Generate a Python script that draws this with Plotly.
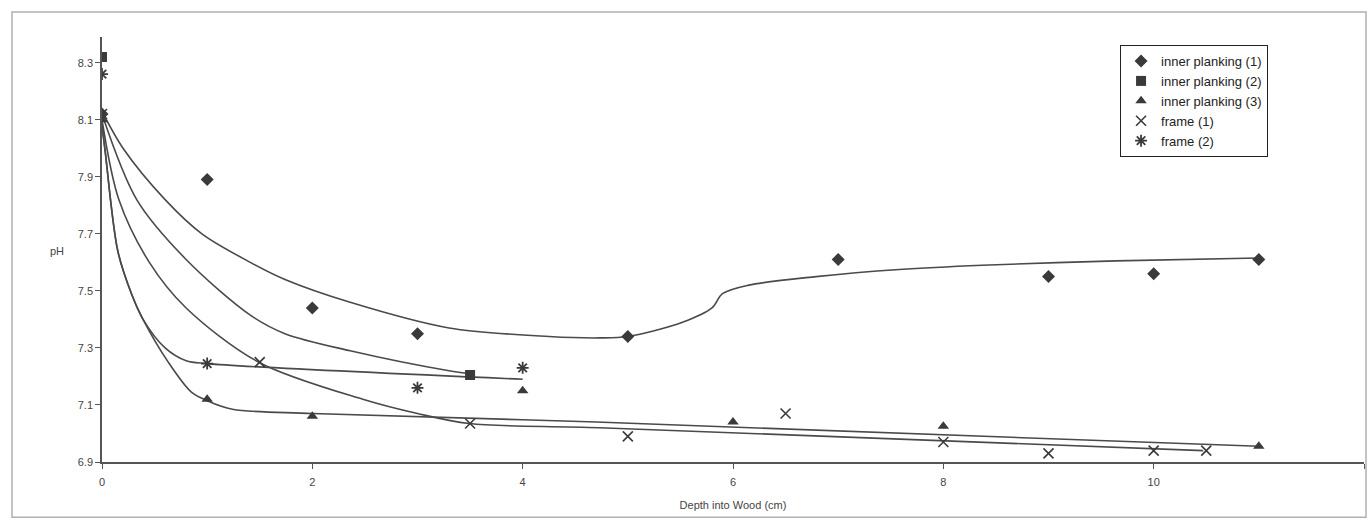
import plotly.graph_objects as go

# ---- measured points ----
ip1_x = [0, 1, 2, 3, 5, 7, 9, 10, 11]
ip1_y = [8.12, 7.89, 7.44, 7.35, 7.34, 7.61, 7.55, 7.56, 7.61]

ip2_x = [0, 3.5]
ip2_y = [8.32, 7.205]

ip3_x = [0, 1, 2, 4, 6, 8, 11]
ip3_y = [8.1, 7.12, 7.06, 7.15, 7.04, 7.025, 6.955]

fr1_x = [0, 1.5, 3.5, 5, 6.5, 8, 9, 10, 10.5]
fr1_y = [8.12, 7.25, 7.035, 6.99, 7.07, 6.97, 6.93, 6.94, 6.94]

fr2_x = [0, 1, 3, 4]
fr2_y = [8.26, 7.245, 7.16, 7.23]

# ---- fitted curves ----
ip1_fit_x = [0, 0.2, 0.6, 0.95, 1.41, 1.74, 2.36, 3.3, 4.25, 4.73, 5.0, 5.52, 5.8, 5.9, 6.15, 6.79, 7.58, 8.37, 9.64, 11]
ip1_fit_y = [8.13, 8.0, 7.82, 7.70, 7.60, 7.54, 7.46, 7.37, 7.34, 7.335, 7.34, 7.39, 7.44, 7.49, 7.52, 7.55, 7.575, 7.59, 7.605, 7.615]

ip2_fit_x = [0, 0.33, 0.8, 1.41, 1.74, 2.36, 3.3, 3.5]
ip2_fit_y = [8.12, 7.82, 7.61, 7.415, 7.35, 7.29, 7.22, 7.21]

fr1_fit_x = [0, 0.16, 0.45, 0.8, 1.49, 2.48, 3.0, 3.49, 4.73, 10.47]
fr1_fit_y = [8.1, 7.82, 7.6, 7.44, 7.25, 7.12, 7.07, 7.035, 7.02, 6.94]

fr2_fit_x = [0, 0.03, 0.15, 0.28, 0.39, 0.6, 0.8, 1.0, 4.0]
fr2_fit_y = [8.08, 7.99, 7.64, 7.49, 7.40, 7.30, 7.255, 7.245, 7.19]

ip3_fit_x = [0, 0.03, 0.15, 0.28, 0.39, 0.63, 0.85, 1.0, 1.24, 2.0, 4.7, 11]
ip3_fit_y = [8.08, 7.99, 7.64, 7.49, 7.40, 7.25, 7.145, 7.115, 7.085, 7.07, 7.04, 6.955]

x_ticks = [0, 2, 4, 6, 8, 10, 12]
y_ticks = [6.9, 7.1, 7.3, 7.5, 7.7, 7.9, 8.1, 8.3]

LINE = "#4a4a4a"
MK = "#3a3a3a"

fig = go.Figure()

for fx, fy in [(ip1_fit_x, ip1_fit_y), (ip2_fit_x, ip2_fit_y), (fr1_fit_x, fr1_fit_y),
               (fr2_fit_x, fr2_fit_y), (ip3_fit_x, ip3_fit_y)]:
    fig.add_trace(go.Scatter(x=fx, y=fy, mode="lines", showlegend=False, hoverinfo="skip",
                             line=dict(color=LINE, width=1.6, shape="spline", smoothing=0.9)))

fig.add_trace(go.Scatter(x=ip1_x, y=ip1_y, mode="markers", name="inner planking (1)",
                         marker=dict(symbol="diamond", size=10, color=MK)))
fig.add_trace(go.Scatter(x=ip2_x, y=ip2_y, mode="markers", name="inner planking (2)",
                         marker=dict(symbol="square", size=10, color=MK)))
fig.add_trace(go.Scatter(x=ip3_x, y=ip3_y, mode="markers", name="inner planking (3)",
                         marker=dict(symbol="triangle-up", size=10, color=MK)))
fig.add_trace(go.Scatter(x=fr1_x, y=fr1_y, mode="markers", name="frame (1)",
                         marker=dict(symbol="x-thin-open", size=10, color=MK,
                                     line=dict(color=MK, width=1.6))))
fig.add_trace(go.Scatter(x=fr2_x, y=fr2_y, mode="markers", name="frame (2)",
                         marker=dict(symbol="asterisk-open", size=10, color=MK,
                                     line=dict(color=MK, width=1.8))))

# chart-area frame (outside the plot area)
fig.add_shape(type="rect", xref="paper", yref="paper",
              x0=-0.0713, x1=1.0016, y0=-0.13, y1=1.0588,
              line=dict(color="#b0b0b0", width=1.5), layer="below")

fig.add_annotation(text="pH", xref="paper", yref="paper", x=-0.043, y=0.497,
                   showarrow=False, font=dict(size=11, color="#444", family="Liberation Sans"))

fig.update_layout(
    width=1368, height=522,
    margin=dict(l=102, r=4, t=37, b=60),
    paper_bgcolor="white", plot_bgcolor="white",
    font=dict(family="Liberation Sans, Arial, sans-serif", size=11, color="#444"),
    legend=dict(x=0.8067, y=0.981, xanchor="left", yanchor="top",
                bordercolor="#222", borderwidth=1, bgcolor="white",
                font=dict(size=13, color="#222"), itemwidth=30, tracegroupgap=0),
    xaxis=dict(range=[0, 12], tickvals=x_ticks, ticktext=[str(v) for v in x_ticks],
               showgrid=False, zeroline=False, showline=True, linecolor="#555", linewidth=1.5,
               ticks="outside", ticklen=5, tickcolor="#555", ticklabelstandoff=4,
               title=dict(text="Depth into Wood (cm)", font=dict(size=11, color="#444"), standoff=14)),
    yaxis=dict(range=[6.9, 8.39], tickvals=y_ticks, ticktext=[f"{v:.1f}" for v in y_ticks],
               showgrid=False, zeroline=False, showline=True, linecolor="#555", linewidth=1.5,
               ticks="outside", ticklen=5, tickcolor="#555"),
)

fig.write_html("out.html")
